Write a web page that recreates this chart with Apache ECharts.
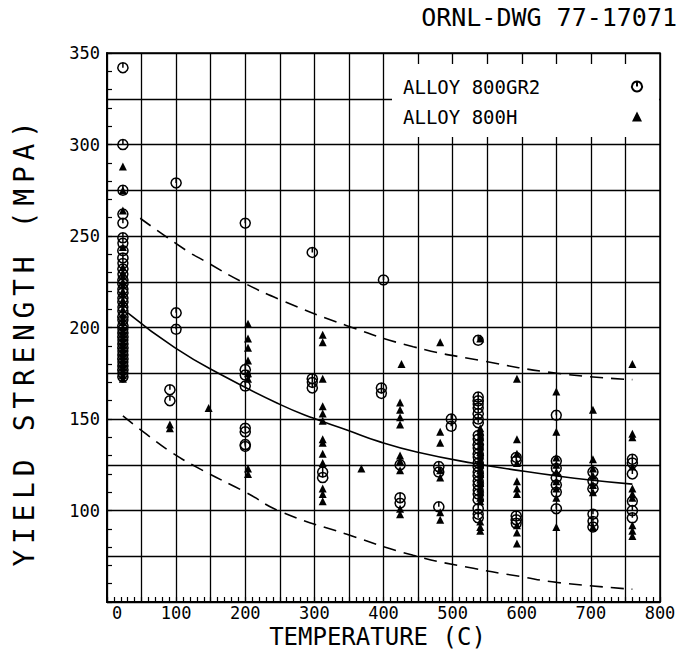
<!DOCTYPE html>
<html>
<head>
<meta charset="utf-8">
<script src="https://cdn.jsdelivr.net/npm/echarts@6/dist/echarts.min.js"></script>
<style>
html,body{margin:0;padding:0;background:#fff}
#c{width:680px;height:652px}
</style>
</head>
<body>
<div id="c"></div>
<script>
const FONT = 'DejaVu Sans Mono';
const titleText = 'ORNL-DWG 77-17071';
const xName = 'TEMPERATURE (C)';
const yName = 'YIELD STRENGTH (MPA)';
const seriesNames = ['ALLOY 800GR2', 'ALLOY 800H'];

// tick labels
const xTickLabels = [0, 100, 200, 300, 400, 500, 600, 700, 800];
const yTickLabels = [100, 150, 200, 250, 300, 350];
const yMin = 50;

// ALLOY 800GR2 (circles): temperature of each column and the yield strengths at it
const gr2Temps = [23, 100, 91, 200, 297, 312, 400, 397, 424, 480, 498, 537, 592, 650, 703, 760];
const gr2Values = [
  [342, 300, 275, 262, 257, 249, 246, 242, 238, 235, 232, 229, 226, 224, 221, 219, 216, 214, 211, 209, 206, 204, 201, 199, 197, 195, 193, 191, 189, 187, 185, 183, 181, 179, 177, 175, 173],
  [279, 208, 199],
  [166, 160],
  [257, 177, 174, 168, 145, 143, 136, 135],
  [241, 172, 170, 167],
  [121, 118],
  [226],
  [167, 164],
  [125, 107, 104],
  [124, 121, 102],
  [150, 146],
  [193, 162, 160, 158, 156, 153, 150, 148, 141, 139, 136, 134, 131, 129, 126, 124, 121, 119, 116, 114, 111, 109, 106, 101, 98, 96],
  [129, 127, 97, 95, 93],
  [152, 127, 123, 118, 114, 110, 101],
  [121, 116, 112, 98, 94, 91],
  [128, 126, 120, 105, 100, 96]
];

// ALLOY 800H (triangles)
const h800Temps = [23, 91, 147, 204, 312, 368, 426, 424, 482, 540, 593, 650, 703, 760];
const h800Values = [
  [288, 275, 264, 244, 233, 230, 228, 225, 223, 220, 218, 215, 213, 210, 207, 205, 203, 200, 198, 196, 194, 192, 190, 188, 186, 184, 182, 180, 178, 176, 174, 172],
  [147, 145],
  [156],
  [202, 194, 189, 182, 175, 172, 123, 120],
  [196, 192, 172, 157, 153, 149, 139, 137, 131, 126, 112, 109, 105],
  [123],
  [180],
  [159, 155, 151, 147, 130, 127, 122, 101, 98],
  [192, 143, 137, 122, 118, 99, 95],
  [194, 145, 143, 140, 138, 135, 132, 130, 127, 125, 122, 120, 117, 115, 112, 110, 107, 105, 94, 91, 89],
  [172, 139, 131, 126, 116, 112, 109, 92, 88, 82],
  [165, 143, 129, 125, 121, 116, 112, 107, 91],
  [155, 128, 123, 119, 114, 110, 91],
  [180, 142, 140, 124, 112, 109, 107, 92, 89, 86]
];

// fitted curve (solid) and bands (dashed)
const meanTemp = [30, 98, 168, 250, 298, 347, 395, 448, 530, 597, 651, 699, 760];
const meanYS   = [208, 189, 173.6, 158, 150.5, 144, 137.5, 132, 125.8, 121.8, 118.9, 116.7, 114.4];
const upperTemp = [48, 115, 139, 197, 255, 347, 443, 540, 651, 760];
const upperYS   = [259.7, 242, 236.8, 224.6, 214.5, 201, 189.5, 182, 175, 171.5];
const lowerTemp = [23, 57, 94, 135, 202, 250, 347, 443, 530, 597, 651, 760];
const lowerYS   = [151.7, 141.7, 131.6, 122.6, 109.7, 99.6, 87, 75.5, 68.4, 64, 60.7, 57];

function toPoints(temps, values) {
  const out = [];
  temps.forEach((t, i) => values[i].forEach(v => out.push([t, v])));
  return out;
}
function zip(a, b) { return a.map((v, i) => [v, b[i]]); }

const circleSym = 'path://M10 1A9 9 0 1 1 9.99 1ZM10 1L10 10';

const chart = echarts.init(document.getElementById('c'), null, {renderer: 'svg'});
const option = {
  animation: false,
  backgroundColor: '#fff',
  textStyle: {fontFamily: FONT, color: '#000'},
  title: {
    text: titleText, right: 3, top: 5, padding: 0,
    textStyle: {fontFamily: FONT, fontSize: 25, fontWeight: 'normal', color: '#000'}
  },
  grid: {
    left: 107, right: 20, top: 53, bottom: 50,
    show: true, borderColor: '#000', borderWidth: 1.5, backgroundColor: 'transparent',
    containLabel: false, outerBoundsMode: 'none'
  },
  legend: {
    data: seriesNames, orient: 'vertical', left: 392, top: 64,
    padding: [13, 16, 11, 11], backgroundColor: '#fff', align: 'right',
    itemWidth: 10, itemHeight: 10, itemGap: 11, selectedMode: false,
    formatter: n => '{t|' + n + '}',
    textStyle: {
      fontFamily: FONT, fontSize: 19, color: '#000',
      rich: {t: {fontFamily: FONT, fontSize: 19, color: '#000', width: 224, align: 'left', lineHeight: 14}}
    }
  },
  xAxis: [
    {
      type: 'value', position: 'bottom',
      min: xTickLabels[0], max: xTickLabels[xTickLabels.length - 1],
      interval: xTickLabels[1] - xTickLabels[0],
      axisLine: {show: true, onZero: false, lineStyle: {color: '#000', width: 2}},
      axisTick: {show: true, inside: true, length: 5, lineStyle: {color: '#000', width: 1.2}},
      minorTick: {show: true, splitNumber: 10, length: 5, lineStyle: {color: '#000', width: 1.2}},
      splitLine: {show: false},
      axisLabel: {
        margin: 4, fontFamily: FONT, fontSize: 17, lineHeight: 13, color: '#000',
        formatter: v => v === 0 ? '{z|0}' : String(v),
        rich: {z: {padding: [0, 0, 0, 20], fontFamily: FONT, fontSize: 17, lineHeight: 13, color: '#000'}}
      },
      name: xName, nameLocation: 'middle', nameGap: 25.5, nameMoveOverlap: false,
      nameTextStyle: {fontFamily: FONT, fontSize: 24, lineHeight: 19, color: '#000', padding: [0, 12, 0, 0]}
    },
    {
      type: 'value', position: 'top',
      min: xTickLabels[0], max: xTickLabels[xTickLabels.length - 1], interval: 50,
      axisLine: {show: false}, axisTick: {show: false}, axisLabel: {show: false},
      splitLine: {show: true, lineStyle: {color: '#000', width: 1.3}}
    }
  ],
  yAxis: [
    {
      type: 'value', position: 'left',
      min: yMin, max: yTickLabels[yTickLabels.length - 1],
      interval: yTickLabels[1] - yTickLabels[0],
      axisLine: {show: true, onZero: false, lineStyle: {color: '#000', width: 2}},
      axisTick: {show: true, inside: true, length: 5, lineStyle: {color: '#000', width: 1.2}},
      minorTick: {show: true, splitNumber: 5, length: 5, lineStyle: {color: '#000', width: 1.2}},
      splitLine: {show: false},
      axisLabel: {
        margin: 7, fontFamily: FONT, fontSize: 17, color: '#000', padding: [5, 0, 0, 0],
        formatter: v => yTickLabels.indexOf(v) >= 0 ? String(v) : ''
      },
      name: yName, nameLocation: 'middle', nameRotate: 90, nameGap: 69, nameMoveOverlap: false,
      nameTextStyle: {fontFamily: FONT, fontSize: 28, color: '#000', padding: [0, 27, 0, 0]}
    },
    {
      type: 'value', position: 'right',
      min: yMin, max: yTickLabels[yTickLabels.length - 1], interval: 25,
      axisLine: {show: false}, axisTick: {show: false}, axisLabel: {show: false},
      splitLine: {show: true, lineStyle: {color: '#000', width: 1.3}}
    }
  ],
  series: [
    {
      name: seriesNames[0], type: 'scatter', xAxisIndex: 0, yAxisIndex: 0,
      symbol: circleSym, symbolSize: 10, z: 5,
      itemStyle: {color: 'rgba(0,0,0,0)', borderColor: '#000', borderWidth: 1.5, opacity: 1},
      data: toPoints(gr2Temps, gr2Values)
    },
    {
      name: seriesNames[1], type: 'scatter', xAxisIndex: 0, yAxisIndex: 0,
      symbol: 'triangle', symbolSize: [8, 8], z: 5,
      itemStyle: {color: '#000', opacity: 1},
      data: toPoints(h800Temps, h800Values)
    },
    {
      name: 'mean', type: 'line', xAxisIndex: 0, yAxisIndex: 0, smooth: true, showSymbol: false, symbol: 'none',
      lineStyle: {color: '#000', width: 1.6}, data: zip(meanTemp, meanYS), z: 4
    },
    {
      name: 'upper', type: 'line', xAxisIndex: 0, yAxisIndex: 0, smooth: true, showSymbol: false, symbol: 'none',
      lineStyle: {color: '#000', width: 1.6, type: [13, 8]}, data: zip(upperTemp, upperYS), z: 4
    },
    {
      name: 'lower', type: 'line', xAxisIndex: 0, yAxisIndex: 0, smooth: true, showSymbol: false, symbol: 'none',
      lineStyle: {color: '#000', width: 1.6, type: [13, 8]}, data: zip(lowerTemp, lowerYS), z: 4
    }
  ]
};
chart.setOption(option);

function applySpacing() {
  chart.getDom().querySelectorAll('text').forEach(t => {
    if (t.textContent === yName) t.style.letterSpacing = '5.7px';
  });
}
applySpacing();
chart.on('finished', applySpacing);
</script>
</body>
</html>
